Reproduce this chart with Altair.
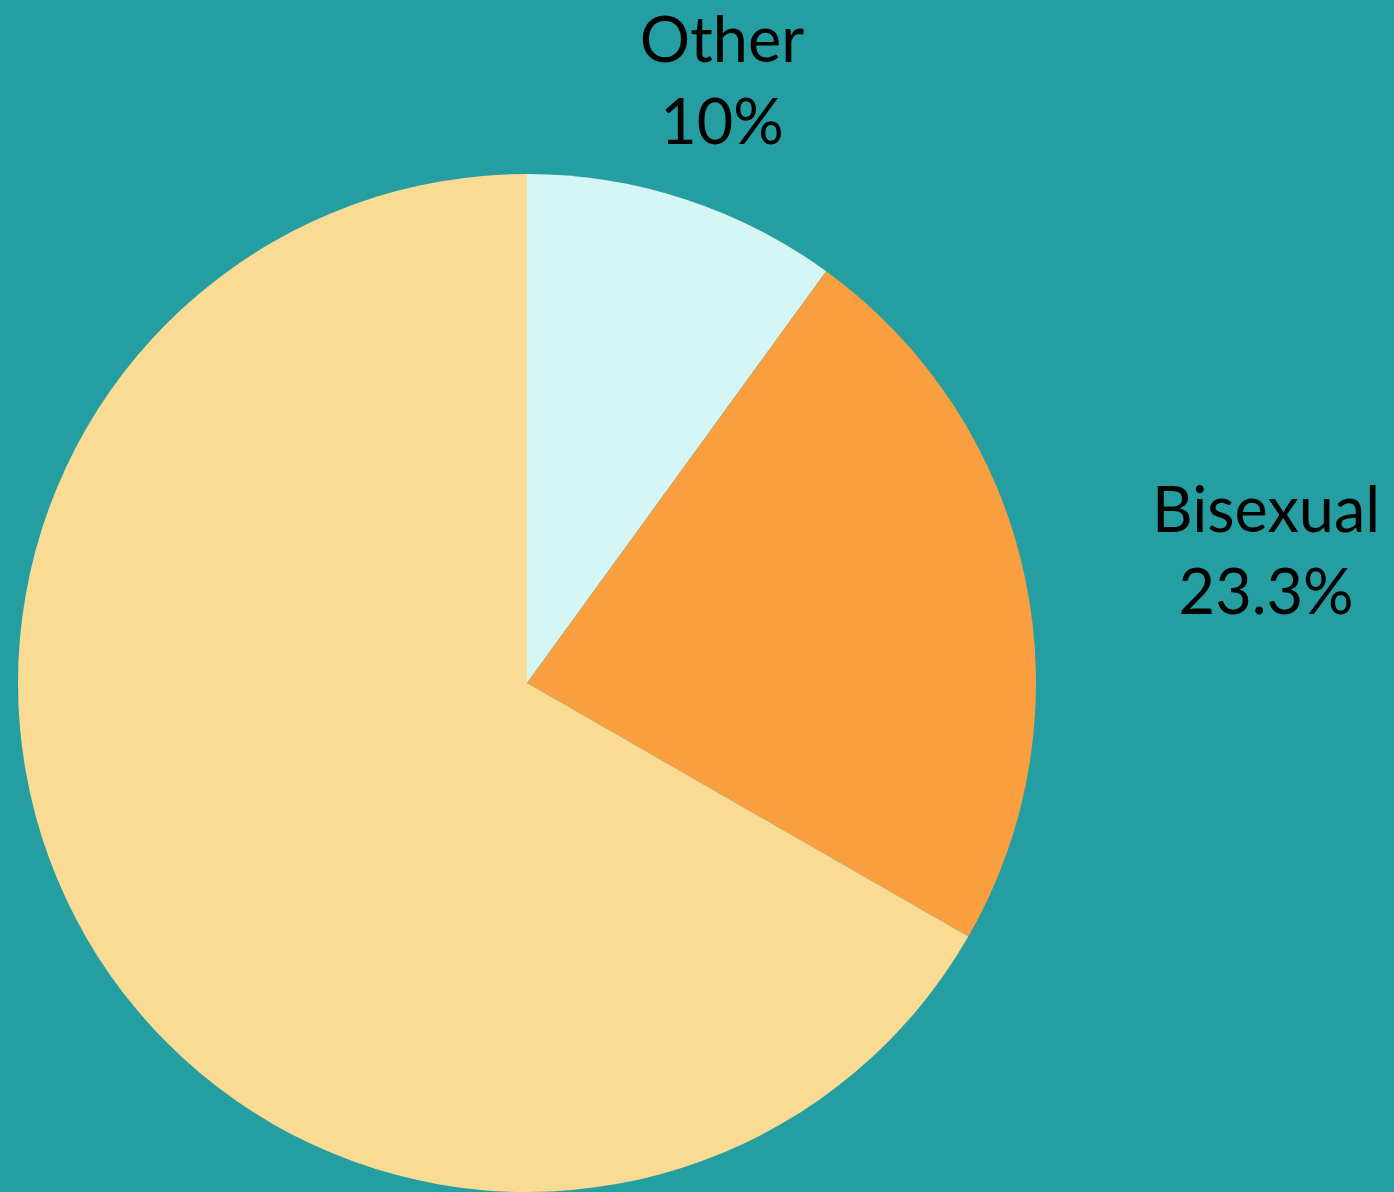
import altair as alt
import pandas as pd

categories = ["Other", "Bisexual", "Gay or lesbian"]
values = [10.0, 23.3, 66.7]
labels = ["10%", "23.3%", "66.7%"]
order = [1, 2, 3]
colors = ["#D6F5F5", "#F99F40", "#F9DB93"]

df = pd.DataFrame({"cat": categories, "value": values, "pct": labels, "idx": order})
df["label"] = df["cat"] + "\n" + df["pct"]

CX, CY, R = 527, 683, 509

base = alt.Chart(df).encode(
    theta=alt.Theta("value:Q", stack=True),
    order=alt.Order("idx:Q"),
    x=alt.value(CX),
    y=alt.value(CY),
)

arcs = base.mark_arc(radius=R, stroke=None).encode(
    color=alt.Color("cat:N", scale=alt.Scale(domain=categories, range=colors), legend=None)
)

def label_layer(name, radius, dx=0, dy=0):
    return base.mark_text(
        radius=radius, dx=dx, dy=dy, font="Lato", fontSize=63, lineHeight=82,
        lineBreak="\n", color="#000000", align="center", baseline="middle",
    ).encode(
        text=alt.condition(f"datum.cat == '{name}'", alt.Text("label:N"), alt.value(""))
    )

chart = alt.layer(
    arcs,
    label_layer("Other", 631, dy=-40),
    label_layer("Bisexual", 631, dx=122, dy=-38),
).properties(
    width=1394, height=1192, background="#259EA1", padding=0,
    autosize=alt.AutoSizeParams(type="none"),
).configure_view(stroke=None)

chart.save("out.html", embed_options={"renderer": "svg", "actions": False})
